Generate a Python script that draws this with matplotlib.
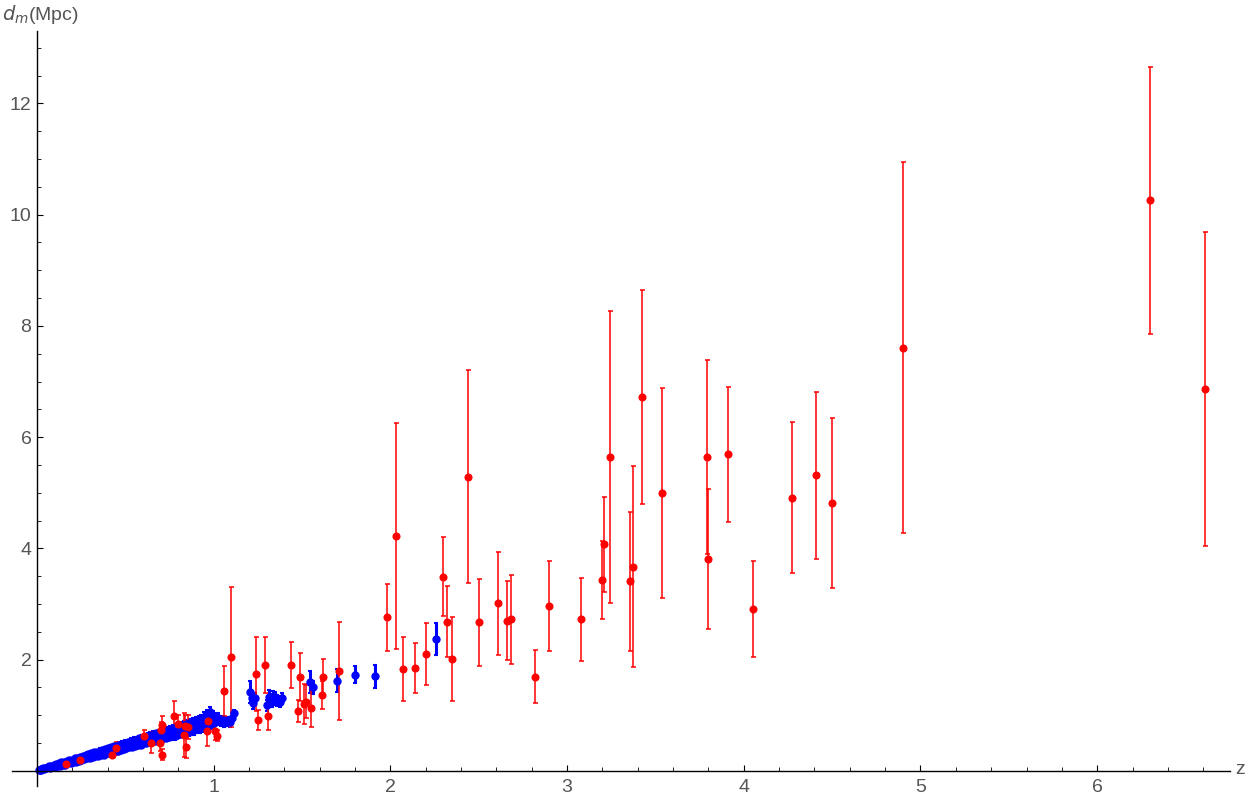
import matplotlib.pyplot as plt
from matplotlib.ticker import FixedLocator, MultipleLocator

# --- data ---
# blue series (dense low-z band + a few higher points)
blue_z = [0.010, 0.015, 0.020, 0.024, 0.030, 0.035, 0.040, 0.046, 0.052, 0.060,
          0.065, 0.072, 0.080, 0.086, 0.094, 0.100, 0.108, 0.115, 0.122, 0.130,
          0.138, 0.145, 0.152, 0.160, 0.168, 0.175, 0.183, 0.190, 0.198, 0.205,
          0.213, 0.220, 0.228, 0.236, 0.244, 0.251, 0.259, 0.267, 0.275, 0.283,
          0.291, 0.299, 0.307, 0.315, 0.322, 0.330, 0.338, 0.346, 0.354, 0.362,
          0.370, 0.378, 0.386, 0.394, 0.402, 0.410, 0.418, 0.426, 0.434, 0.442,
          0.450, 0.458, 0.466, 0.474, 0.482, 0.490, 0.498, 0.506, 0.514, 0.522,
          0.530, 0.538, 0.546, 0.554, 0.562, 0.570, 0.578, 0.586, 0.594, 0.602,
          0.610, 0.618, 0.626, 0.634, 0.642, 0.650, 0.658, 0.666, 0.674, 0.682,
          0.690, 0.698, 0.706, 0.714, 0.722, 0.730, 0.738, 0.746, 0.754, 0.762,
          0.770, 0.778, 0.786, 0.794, 0.802, 0.810, 0.818, 0.826, 0.834, 0.842,
          0.850, 0.858, 0.866, 0.874, 0.882, 0.890, 0.898, 0.906, 0.914, 0.922,
          0.930, 0.938, 0.946, 0.954, 0.962, 0.970, 0.978, 0.986, 0.994, 1.002,
          1.010, 1.018, 1.026, 1.040, 1.050, 1.060, 1.074, 1.090, 1.105, 1.115,
          1.205, 1.215, 1.224, 1.232, 1.303, 1.310, 1.320, 1.328, 1.338, 1.347,
          1.360, 1.375, 1.385, 1.545, 1.560, 1.700, 1.800, 1.915, 2.260]
blue_dm = [0.01, 0.02, 0.02, 0.03, 0.03, 0.04, 0.03, 0.05, 0.04, 0.06,
           0.08, 0.05, 0.09, 0.06, 0.10, 0.07, 0.12, 0.08, 0.13, 0.09,
           0.15, 0.10, 0.16, 0.11, 0.18, 0.13, 0.19, 0.14, 0.20, 0.15,
           0.22, 0.16, 0.23, 0.18, 0.25, 0.19, 0.26, 0.21, 0.28, 0.22,
           0.30, 0.23, 0.31, 0.25, 0.33, 0.26, 0.34, 0.27, 0.36, 0.29,
           0.37, 0.29, 0.39, 0.31, 0.41, 0.32, 0.42, 0.34, 0.44, 0.35,
           0.45, 0.36, 0.47, 0.38, 0.48, 0.39, 0.50, 0.41, 0.52, 0.42,
           0.53, 0.43, 0.55, 0.44, 0.56, 0.46, 0.58, 0.47, 0.59, 0.49,
           0.61, 0.50, 0.62, 0.51, 0.64, 0.53, 0.65, 0.54, 0.67, 0.56,
           0.68, 0.56, 0.70, 0.58, 0.71, 0.59, 0.73, 0.61, 0.75, 0.62,
           0.76, 0.63, 0.78, 0.65, 0.79, 0.66, 0.81, 0.68, 0.83, 0.69,
           0.84, 0.70, 0.86, 0.72, 0.88, 0.73, 0.90, 0.75, 0.91, 0.76,
           0.93, 0.78, 0.97, 0.80, 1.02, 0.82, 1.06, 0.84, 0.98, 0.86,
           0.96, 0.90, 0.94, 0.88, 0.91, 0.86, 0.88, 0.87, 0.95, 1.03,
           1.42, 1.30, 1.21, 1.30, 1.18, 1.33, 1.28, 1.24, 1.33, 1.30,
           1.26, 1.24, 1.30, 1.59, 1.50, 1.62, 1.73, 1.70, 2.37]
blue_err = [0.01, 0.01, 0.01, 0.01, 0.01, 0.01, 0.01, 0.01, 0.02, 0.02,
            0.02, 0.02, 0.02, 0.02, 0.02, 0.02, 0.02, 0.02, 0.02, 0.02,
            0.02, 0.02, 0.03, 0.02, 0.03, 0.02, 0.03, 0.03, 0.02, 0.03,
            0.03, 0.03, 0.03, 0.03, 0.03, 0.03, 0.03, 0.03, 0.03, 0.03,
            0.03, 0.03, 0.04, 0.03, 0.04, 0.04, 0.03, 0.04, 0.04, 0.03,
            0.04, 0.04, 0.04, 0.04, 0.04, 0.04, 0.04, 0.04, 0.04, 0.04,
            0.04, 0.05, 0.04, 0.05, 0.05, 0.04, 0.05, 0.05, 0.04, 0.05,
            0.05, 0.05, 0.05, 0.05, 0.05, 0.05, 0.05, 0.05, 0.05, 0.05,
            0.05, 0.06, 0.05, 0.06, 0.06, 0.05, 0.06, 0.06, 0.05, 0.06,
            0.06, 0.06, 0.06, 0.06, 0.06, 0.06, 0.06, 0.06, 0.06, 0.06,
            0.06, 0.07, 0.06, 0.07, 0.07, 0.06, 0.07, 0.07, 0.06, 0.07,
            0.07, 0.07, 0.07, 0.08, 0.07, 0.08, 0.07, 0.08, 0.08, 0.08,
            0.08, 0.08, 0.08, 0.09, 0.08, 0.10, 0.08, 0.09, 0.09, 0.08,
            0.08, 0.08, 0.09, 0.08, 0.08, 0.08, 0.08, 0.08, 0.08, 0.07,
            0.20, 0.12, 0.10, 0.10, 0.10, 0.12, 0.10, 0.10, 0.10, 0.12,
            0.10, 0.10, 0.10, 0.20, 0.12, 0.21, 0.15, 0.21, 0.28]

# red series
red_z = [0.164, 0.243, 0.424, 0.447, 0.606, 0.647, 0.696, 0.700, 0.707, 0.707,
         0.775, 0.796, 0.830, 0.838, 0.845, 0.856, 0.960, 0.970, 1.007, 1.017,
         1.058, 1.098, 1.239, 1.249, 1.290, 1.309, 1.440, 1.479, 1.488, 1.511,
         1.522, 1.551, 1.611, 1.620, 1.710, 1.98, 2.03, 2.07, 2.14, 2.20,
         2.30, 2.32, 2.35, 2.44, 2.50, 2.61, 2.66, 2.68, 2.82, 2.90,
         3.08, 3.20, 3.21, 3.245, 3.354, 3.375, 3.426, 3.535, 3.79, 3.80,
         3.91, 4.05, 4.27, 4.41, 4.50, 4.90, 6.297, 6.61]
red_dm = [0.12, 0.19, 0.29, 0.40, 0.63, 0.50, 0.49, 0.73, 0.83, 0.29,
          0.99, 0.84, 0.64, 0.81, 0.42, 0.79, 0.71, 0.89, 0.71, 0.63,
          1.44, 2.04, 1.74, 0.91, 1.90, 0.99, 1.90, 1.08, 1.69, 1.20,
          1.24, 1.13, 1.36, 1.69, 1.80, 2.76, 4.22, 1.83, 1.84, 2.10,
          3.49, 2.68, 2.01, 5.29, 2.67, 3.01, 2.70, 2.72, 1.69, 2.97,
          2.72, 3.43, 4.07, 5.64, 3.41, 3.67, 6.72, 5.00, 5.64, 3.81,
          5.69, 2.91, 4.91, 5.31, 4.82, 7.61, 10.26, 6.86]
red_err = [0.02, 0.07, 0.05, 0.11, 0.11, 0.19, 0.13, 0.15, 0.16, 0.10,
           0.27, 0.17, 0.39, 0.20, 0.19, 0.22, 0.26, 0.17, 0.15, 0.10,
           0.45, 1.26, 0.67, 0.18, 0.51, 0.26, 0.42, 0.20, 0.43, 0.36,
           0.30, 0.35, 0.25, 0.32, 0.88, 0.60, 2.03, 0.58, 0.45, 0.55,
           0.71, 0.64, 0.76, 1.91, 0.78, 0.92, 0.71, 0.80, 0.48, 0.81,
           0.75, 0.70, 0.86, 2.62, 1.25, 1.81, 1.92, 1.89, 1.74, 1.26,
           1.21, 0.86, 1.36, 1.50, 1.53, 3.33, 2.40, 2.82]

y_major = [2, 4, 6, 8, 10, 12]
x_major = [1, 2, 3, 4, 5, 6]

# --- plot ---
label_color = "#555555"
fig = plt.figure(figsize=(12.49, 7.96), dpi=100)
ax = fig.add_axes([0.00985, 0.0129, 0.9747, 0.9479])

ax.errorbar(blue_z, blue_dm, yerr=blue_err, fmt="o", color="#0000ff",
            ms=5, elinewidth=2.2, capsize=1.5, capthick=1.5)
ax.errorbar(red_z, red_dm, yerr=red_err, fmt="o", color="#ff0000",
            ms=4.8, elinewidth=1.1, capsize=1.8, capthick=1.1)

ax.set_xlim(-0.14, 6.75)
ax.set_ylim(-0.27, 13.3)

# Mathematica-like axes crossing at the origin
for side in ["top", "right"]:
    ax.spines[side].set_visible(False)
ax.spines["left"].set_position(("data", 0))
ax.spines["bottom"].set_position(("data", 0))
ax.spines["left"].set_linewidth(1.0)
ax.spines["bottom"].set_linewidth(1.0)

ax.xaxis.set_major_locator(FixedLocator(x_major))
ax.yaxis.set_major_locator(FixedLocator(y_major))
ax.xaxis.set_minor_locator(MultipleLocator(0.2))
ax.yaxis.set_minor_locator(MultipleLocator(0.5))
ax.tick_params(which="both", direction="in", colors="black",
               labelcolor=label_color, labelsize=14)
ax.tick_params(which="major", length=4.5, width=0.8)
ax.tick_params(which="minor", length=3, width=0.6)
ax.tick_params(axis="x", pad=6)
ax.tick_params(axis="y", pad=4)
for lbl in ax.get_xticklabels() + ax.get_yticklabels():
    lbl.set_family("Liberation Sans")

fig.text(2 / 1249, 1 - 14 / 796, r"$d_m$(Mpc)", color=label_color,
         fontsize=14, family="Liberation Sans", ha="left", va="center")
fig.text(1240 / 1249, 1 - 770 / 796, "z", color=label_color,
         fontsize=14, family="Liberation Sans", ha="center", va="center")

fig.savefig("out.png", dpi=100)
